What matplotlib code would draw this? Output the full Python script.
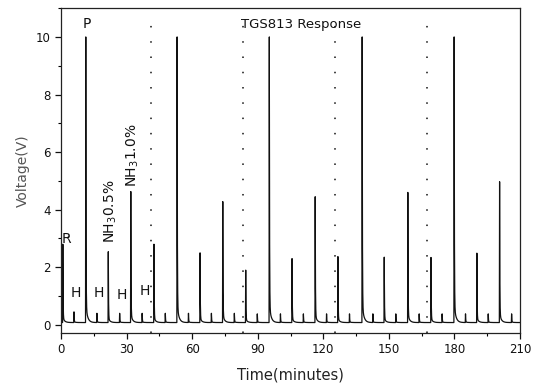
import numpy as np
import matplotlib
matplotlib.use("Agg")
import matplotlib.pyplot as plt
from matplotlib.ticker import MultipleLocator

# Peak times (minutes) and peak voltages
peak_times = [0.8, 5.9, 11.3, 16.4, 21.6, 26.8, 31.9, 37.1,
              42.5, 47.7, 53.1, 58.3, 63.6, 68.8, 74.0, 79.3,
              84.5, 89.8, 95.3, 100.4, 105.7, 110.9, 116.3, 121.5,
              126.7, 132.0, 137.8, 142.7, 147.9, 153.2, 158.7, 163.9,
              169.3, 174.4, 179.9, 185.1, 190.3, 195.5, 200.7, 206.2]
peak_volts = [2.8, 0.45, 10.0, 0.4, 2.54, 0.4, 4.63, 0.4,
              2.8, 0.4, 10.0, 0.4, 2.5, 0.4, 4.28, 0.4,
              1.9, 0.38, 10.0, 0.38, 2.3, 0.38, 4.45, 0.38,
              2.37, 0.38, 10.0, 0.38, 2.35, 0.38, 4.6, 0.38,
              2.34, 0.38, 10.0, 0.38, 2.49, 0.38, 4.97, 0.38]
baseline = 0.08
cycle_marks = [41.2, 83.3, 125.5, 167.6]

x_ticks = [0, 30, 60, 90, 120, 150, 180, 210]
y_ticks = [0, 2, 4, 6, 8, 10]

# Build the trace: each peak rises sharply and decays quickly back to baseline
t = np.union1d(np.linspace(0, 210, 20001), np.array(peak_times))
v = np.full_like(t, baseline)
for tp, hp in zip(peak_times, peak_volts):
    rise = 0.12
    amp = hp - baseline
    up = (t >= tp - rise) & (t < tp)
    v[up] += amp * (t[up] - (tp - rise)) / rise
    dn = t >= tp
    v[dn] += amp * (0.94 * np.exp(-(t[dn] - tp) / 0.1) + 0.06 * np.exp(-(t[dn] - tp) / 0.8))

fig = plt.figure(figsize=(5.36, 3.88), dpi=100)
ax = fig.add_axes([0.114, 0.142, 0.856, 0.837])
ax.plot(t, v, color="#111111", lw=0.9)

for xm in cycle_marks:
    ax.plot([xm, xm], [-0.28, 10.7], color="#111111", lw=1.1,
            linestyle=(0, (1, 9)), clip_on=False)

ax.set_xlim(0, 210)
ax.set_ylim(-0.28, 11.0)
ax.set_xticks(x_ticks)
ax.set_yticks(y_ticks)
ax.xaxis.set_minor_locator(MultipleLocator(15))
ax.yaxis.set_minor_locator(MultipleLocator(1))
ax.tick_params(axis="both", which="major", direction="out", length=4, width=0.9,
               labelsize=8.5, colors="#111111")
ax.tick_params(axis="both", which="minor", direction="out", length=2, width=0.8)
ax.tick_params(top=False, right=False, which="both")
for s in ax.spines.values():
    s.set_linewidth(0.9)
    s.set_color("#222222")

ax.set_xlabel("Time(minutes)", fontsize=10.5, color="#222222", labelpad=8)
ax.set_ylabel("Voltage(V)", fontsize=10, color="#555555", labelpad=4)

ax.text(0.2, 2.85, "R", fontsize=10, color="#111111")
ax.text(11.7, 10.3, "P", fontsize=10, color="#111111", ha="center")
for hx, hy in [(6.7, 0.95), (17.1, 0.95), (27.8, 0.9), (38.4, 1.05)]:
    ax.text(hx, hy, "H", fontsize=10, color="#111111", ha="center")
ax.text(22.9, 2.85, "NH$_3$0.5%", rotation=90, fontsize=10, color="#111111",
        ha="center", va="bottom")
ax.text(32.9, 4.8, "NH$_3$1.0%", rotation=90, fontsize=10, color="#111111",
        ha="center", va="bottom")
ax.text(109.8, 10.3, "TGS813 Response", fontsize=9.5, color="#111111", ha="center")

fig.savefig("out.png", dpi=100)
